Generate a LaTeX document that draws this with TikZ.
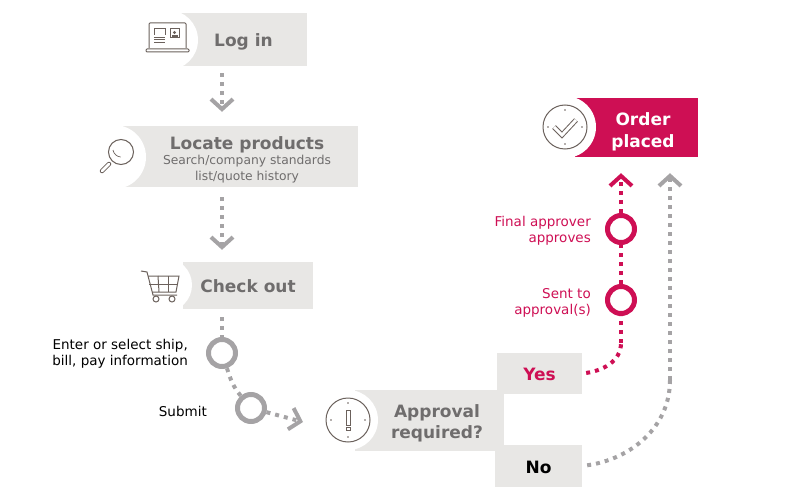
\documentclass[tikz,border=0pt]{standalone}
\usepackage{fontspec}
\setmainfont{DejaVu Sans}
\usepackage{tikz}
\usetikzlibrary{arrows.meta}

\definecolor{boxgrey}{HTML}{E8E7E5}
\definecolor{dotgrey}{HTML}{A5A3A5}
\definecolor{textgrey}{HTML}{6F6D6D}
\definecolor{icongrey}{HTML}{6B615C}
\definecolor{crimson}{HTML}{CE0F54}

\tikzset{
    greybox/.style={fill=boxgrey, inner sep=0pt, align=center},
    boxhead/.style={font=\fontsize{17}{21}\selectfont\bfseries, text=textgrey, text height=14.5pt, text depth=0pt},
    notch/.style={circle, fill=white, inner sep=0pt},
    headtext/.style={font=\fontsize{17}{21.5}\selectfont\bfseries, text=textgrey, align=center, inner sep=0pt},
    subtext/.style={font=\fontsize{12.3}{15.5}\selectfont, text=textgrey, align=center, inner sep=0pt},
    sidetext/.style={font=\fontsize{13.5}{16}\selectfont, align=right, inner sep=0pt, anchor=east},
    stepring/.style={circle, draw=dotgrey, line width=5pt, fill=white, minimum size=27pt, inner sep=0pt},
    flow/.style={draw=dotgrey, line width=4pt, dash pattern=on 4pt off 5pt, fill=none},
    flowtip/.style={-{Straight Barb[length=10pt, width=22pt]}},
    iconline/.style={draw=icongrey, line width=1pt},
}

\begin{document}
\begin{tikzpicture}[x=1pt,y=-1pt]
        \useasboundingbox (0,0) rectangle (800,500);
        \coordinate (spine) at (222,0);

        % boxes
        \node[greybox, boxhead, minimum width=127pt, minimum height=53pt] (login) at (243.5,39.5) {Log in};
        \node[notch, minimum size=60pt] (loginnotch) at (168,40) {};
        \node[greybox, minimum width=238pt, minimum height=61pt] (locate) at (239,156.5) {};
        \node[notch, minimum size=64pt] (locatenotch) at (114,157) {};
        \node[headtext] (locatehead) at (247,144.5) {Locate products};
        \node[subtext] (locatesub) at (247,169) {Search/company standards\\list/quote history};
        \node[greybox, boxhead, minimum width=130pt, minimum height=47pt] (checkout) at (248,285.5) {Check out};
        \node[notch, minimum size=54pt] (checkoutnotch) at (165,285) {};
        \node[greybox, minimum width=149pt, minimum height=61pt] (approval) at (429.5,420.5) {};
        \node[notch, minimum size=60pt] (approvalnotch) at (348,420) {};
        \node[headtext] (approvalhead) at (437,423.5) {Approval\\required?};
        \node[greybox, boxhead, text=crimson, minimum width=85pt, minimum height=41pt] (yes) at (539.5,373.5) {Yes};
        \node[greybox, boxhead, text=black, minimum width=87pt, minimum height=42pt] (no) at (538.5,466) {No};
        \node[fill=crimson, inner sep=0pt, minimum width=123pt, minimum height=59pt] (placed) at (636.5,127.5) {};
        \node[notch, minimum size=62pt] (placednotch) at (565,127) {};
        \node[headtext, text=white] (placedhead) at (643,132) {Order\\placed};

        % rings and their labels
        \node[stepring] (enter) at (222,353) {};
        \node[stepring] (submit) at (251,408) {};
        \node[stepring, draw=crimson] (final) at (621,229) {};
        \node[stepring, draw=crimson] (sent) at (621,300) {};
        \node[sidetext] (enterlabel) at (188,354) {Enter or select ship,\\bill, pay information};
        \node[sidetext] (submitlabel) at (207,411) {Submit};
        \node[sidetext, text=crimson] (finallabel) at (591,231) {Final approver\\approves};
        \node[sidetext, text=crimson] (sentlabel) at (591,303) {Sent to\\approval(s)};

        % grey flow
        \draw[flow, flowtip, shorten <=7pt, shorten >=14pt] (login.south -| spine) -- (locate.north -| spine);
        \draw[flow, flowtip, shorten <=10pt, shorten >=12pt] (locate.south -| spine) -- (checkout.north -| spine);
        \draw[flow, shorten <=8pt] (checkout.south -| enter) -- (enter);
        \draw[flow] (enter) to [out=-72, in=130] (submit);
        \coordinate (approvalin) at (303,422);
        \draw[flow, flowtip] (submit) -- (approvalin);
        \coordinate (nobend) at (670,380);
        \draw[flow, shorten <=5pt] (no.east) to [out=8, in=-90] (nobend);
        \draw[flow, flowtip, shorten >=16pt] (nobend) -- (nobend |- placed.south);

        % crimson flow
        \coordinate (yesbend) at (621,343);
        \draw[flow, draw=crimson, shorten <=4pt] (yes.east) to [out=8, in=-90] (yesbend);
        \draw[flow, draw=crimson] (yesbend) -- (sent);
        \draw[flow, draw=crimson] (sent) -- (final);
        \draw[flow, draw=crimson, flowtip, shorten >=16pt] (final) -- (final |- placed.south);

        % laptop
        \draw[iconline, rounded corners=1pt] (149,48) -- (149,23) -- (186,23) -- (186,48);
        \draw[iconline, rounded corners=1pt] (146,49) rectangle (189,52);
        \draw[iconline] (154,35) -- (154,29) -- (165,29) -- (165,35);
        \foreach \y in {37,39.5,42} {
            \draw[iconline, line width=0.7pt] (154,\y) -- (165,\y);
        }
        \draw[iconline] (170,29) rectangle (179,38);
        \fill[icongrey] (174.5,32.5) circle (1.6pt);
        \fill[icongrey] (171.5,37.5) rectangle (177.5,35.5);

        % magnifier
        \draw[iconline] (121,152) circle (12.5pt);
        \draw[iconline, line width=0.7pt] (113,150) arc (190:265:8.5pt);
        \draw[draw=icongrey, line width=4.5pt, line cap=round] (109,164) -- (102,171);
        \draw[draw=white, line width=2.5pt, line cap=round] (109,164) -- (102,171);

        % cart
        \draw[iconline] (141,271) -- (147,272) -- (153,295) -- (177,295);
        \draw[iconline] (148,276) -- (179,276) -- (176,292) -- (152,292);
        \draw[iconline] (149,284) -- (178,284);
        \draw[iconline] (158,276) -- (159,292);
        \draw[iconline] (168,276) -- (168,292);
        \draw[iconline] (156,299) circle (3pt);
        \draw[iconline] (172,299) circle (3pt);

        % exclamation clock
        \draw[iconline] (348,420) circle (22pt);
        \foreach \a in {0,90,180,270} {
            \fill[icongrey] (348,420) ++(\a:17pt) circle (0.8pt);
        }
        \draw[iconline] (346,410) rectangle (350,425);
        \draw[iconline] (346,427) rectangle (350,430);

        % check clock
        \draw[iconline] (565,127) circle (22pt);
        \foreach \a in {0,90,180,270} {
            \fill[icongrey] (565,127) ++(\a:17pt) circle (0.8pt);
        }
        \draw[draw=icongrey, line width=5pt, line join=miter] (554,127) -- (562,135) -- (576,120);
        \draw[draw=white, line width=3pt, line join=miter] (554,127) -- (562,135) -- (576,120);
\end{tikzpicture}
\end{document}
